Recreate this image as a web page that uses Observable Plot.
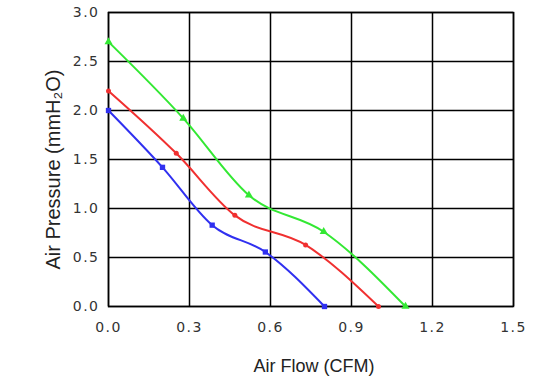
<!DOCTYPE html>
<html><head><meta charset="utf-8">
<script src="https://cdn.jsdelivr.net/npm/d3@7"></script>
<script src="https://cdn.jsdelivr.net/npm/@observablehq/plot@0.6"></script>
<style>
body{margin:0;background:#fff}
g[aria-label="x-axis tick label"] text, g[aria-label="y-axis tick label"] text {letter-spacing: 1.5px}
</style>
</head><body><div id="chart"></div>
<script>
const blueFlow = [0, 0.2, 0.384, 0.581, 0.8];
const bluePressure = [2.0, 1.42, 0.83, 0.556, 0];
const redFlow = [0, 0.251, 0.468, 0.73, 1.0];
const redPressure = [2.2, 1.563, 0.93, 0.628, 0];
const greenFlow = [0, 0.277, 0.52, 0.797, 1.1];
const greenPressure = [2.7, 1.92, 1.135, 0.763, 0];
const xTicks = [0, 0.3, 0.6, 0.9, 1.2, 1.5];
const yTicks = [0, 0.5, 1.0, 1.5, 2.0, 2.5, 3.0];
const xLabel = "Air Flow (CFM)";
const yLabel = "Air Pressure (mmH\u2082O)";

const mk = (f, p) => f.map((x, i) => ({x, y: p[i]}));
const blue = mk(blueFlow, bluePressure);
const red = mk(redFlow, redPressure);
const green = mk(greenFlow, greenPressure);
const fmt = d3.format(".1f");

const chart = Plot.plot({
  width: 551, height: 383,
  marginLeft: 108, marginRight: 38, marginTop: 12, marginBottom: 77,
  style: {fontFamily: "'DejaVu Sans', sans-serif", background: "#fff"},
  x: {domain: [0, 1.5], label: null},
  y: {domain: [0, 3], label: null},
  marks: [
    Plot.gridX(xTicks, {stroke: "#000", strokeOpacity: 1, strokeWidth: 1.5}),
    Plot.gridY(yTicks, {stroke: "#000", strokeOpacity: 1, strokeWidth: 1.5}),
    Plot.frame({stroke: "#000", strokeWidth: 1.5}),
    Plot.axisX(xTicks, {tickSize: 0, tickPadding: 16, tickFormat: fmt, fontSize: 14, fill: "#333", label: null}),
    Plot.axisY(yTicks, {tickSize: 0, tickPadding: 9, tickFormat: fmt, fontSize: 14, fill: "#333", label: null}),
    Plot.line(green, {x: "x", y: "y", stroke: "#33e833", strokeWidth: 2, curve: "monotone-x"}),
    Plot.line(red, {x: "x", y: "y", stroke: "#f03030", strokeWidth: 2, curve: "monotone-x"}),
    Plot.line(blue, {x: "x", y: "y", stroke: "#3030f0", strokeWidth: 2, curve: "monotone-x"}),
    Plot.dot(green, {x: "x", y: "y", symbol: "triangle", r: 3, fill: "#33e833"}),
    Plot.dot(red, {x: "x", y: "y", symbol: "circle", r: 2.5, fill: "#f03030"}),
    Plot.dot(blue, {x: "x", y: "y", symbol: "square", r: 3, fill: "#3030f0"}),
    Plot.text([xLabel], {frameAnchor: "bottom", textAnchor: "middle", lineAnchor: "middle", dx: 3, dy: 60, fontSize: 18, fill: "#222", fontFamily: "'Liberation Sans', Arial, sans-serif"}),
    Plot.text([yLabel], {frameAnchor: "left", textAnchor: "middle", lineAnchor: "middle", dx: -55, dy: 10, rotate: -90, fontSize: 20, fill: "#222", fontFamily: "'Liberation Sans', Arial, sans-serif"})
  ]
});
document.getElementById("chart").appendChild(chart);
</script>
</body></html>
